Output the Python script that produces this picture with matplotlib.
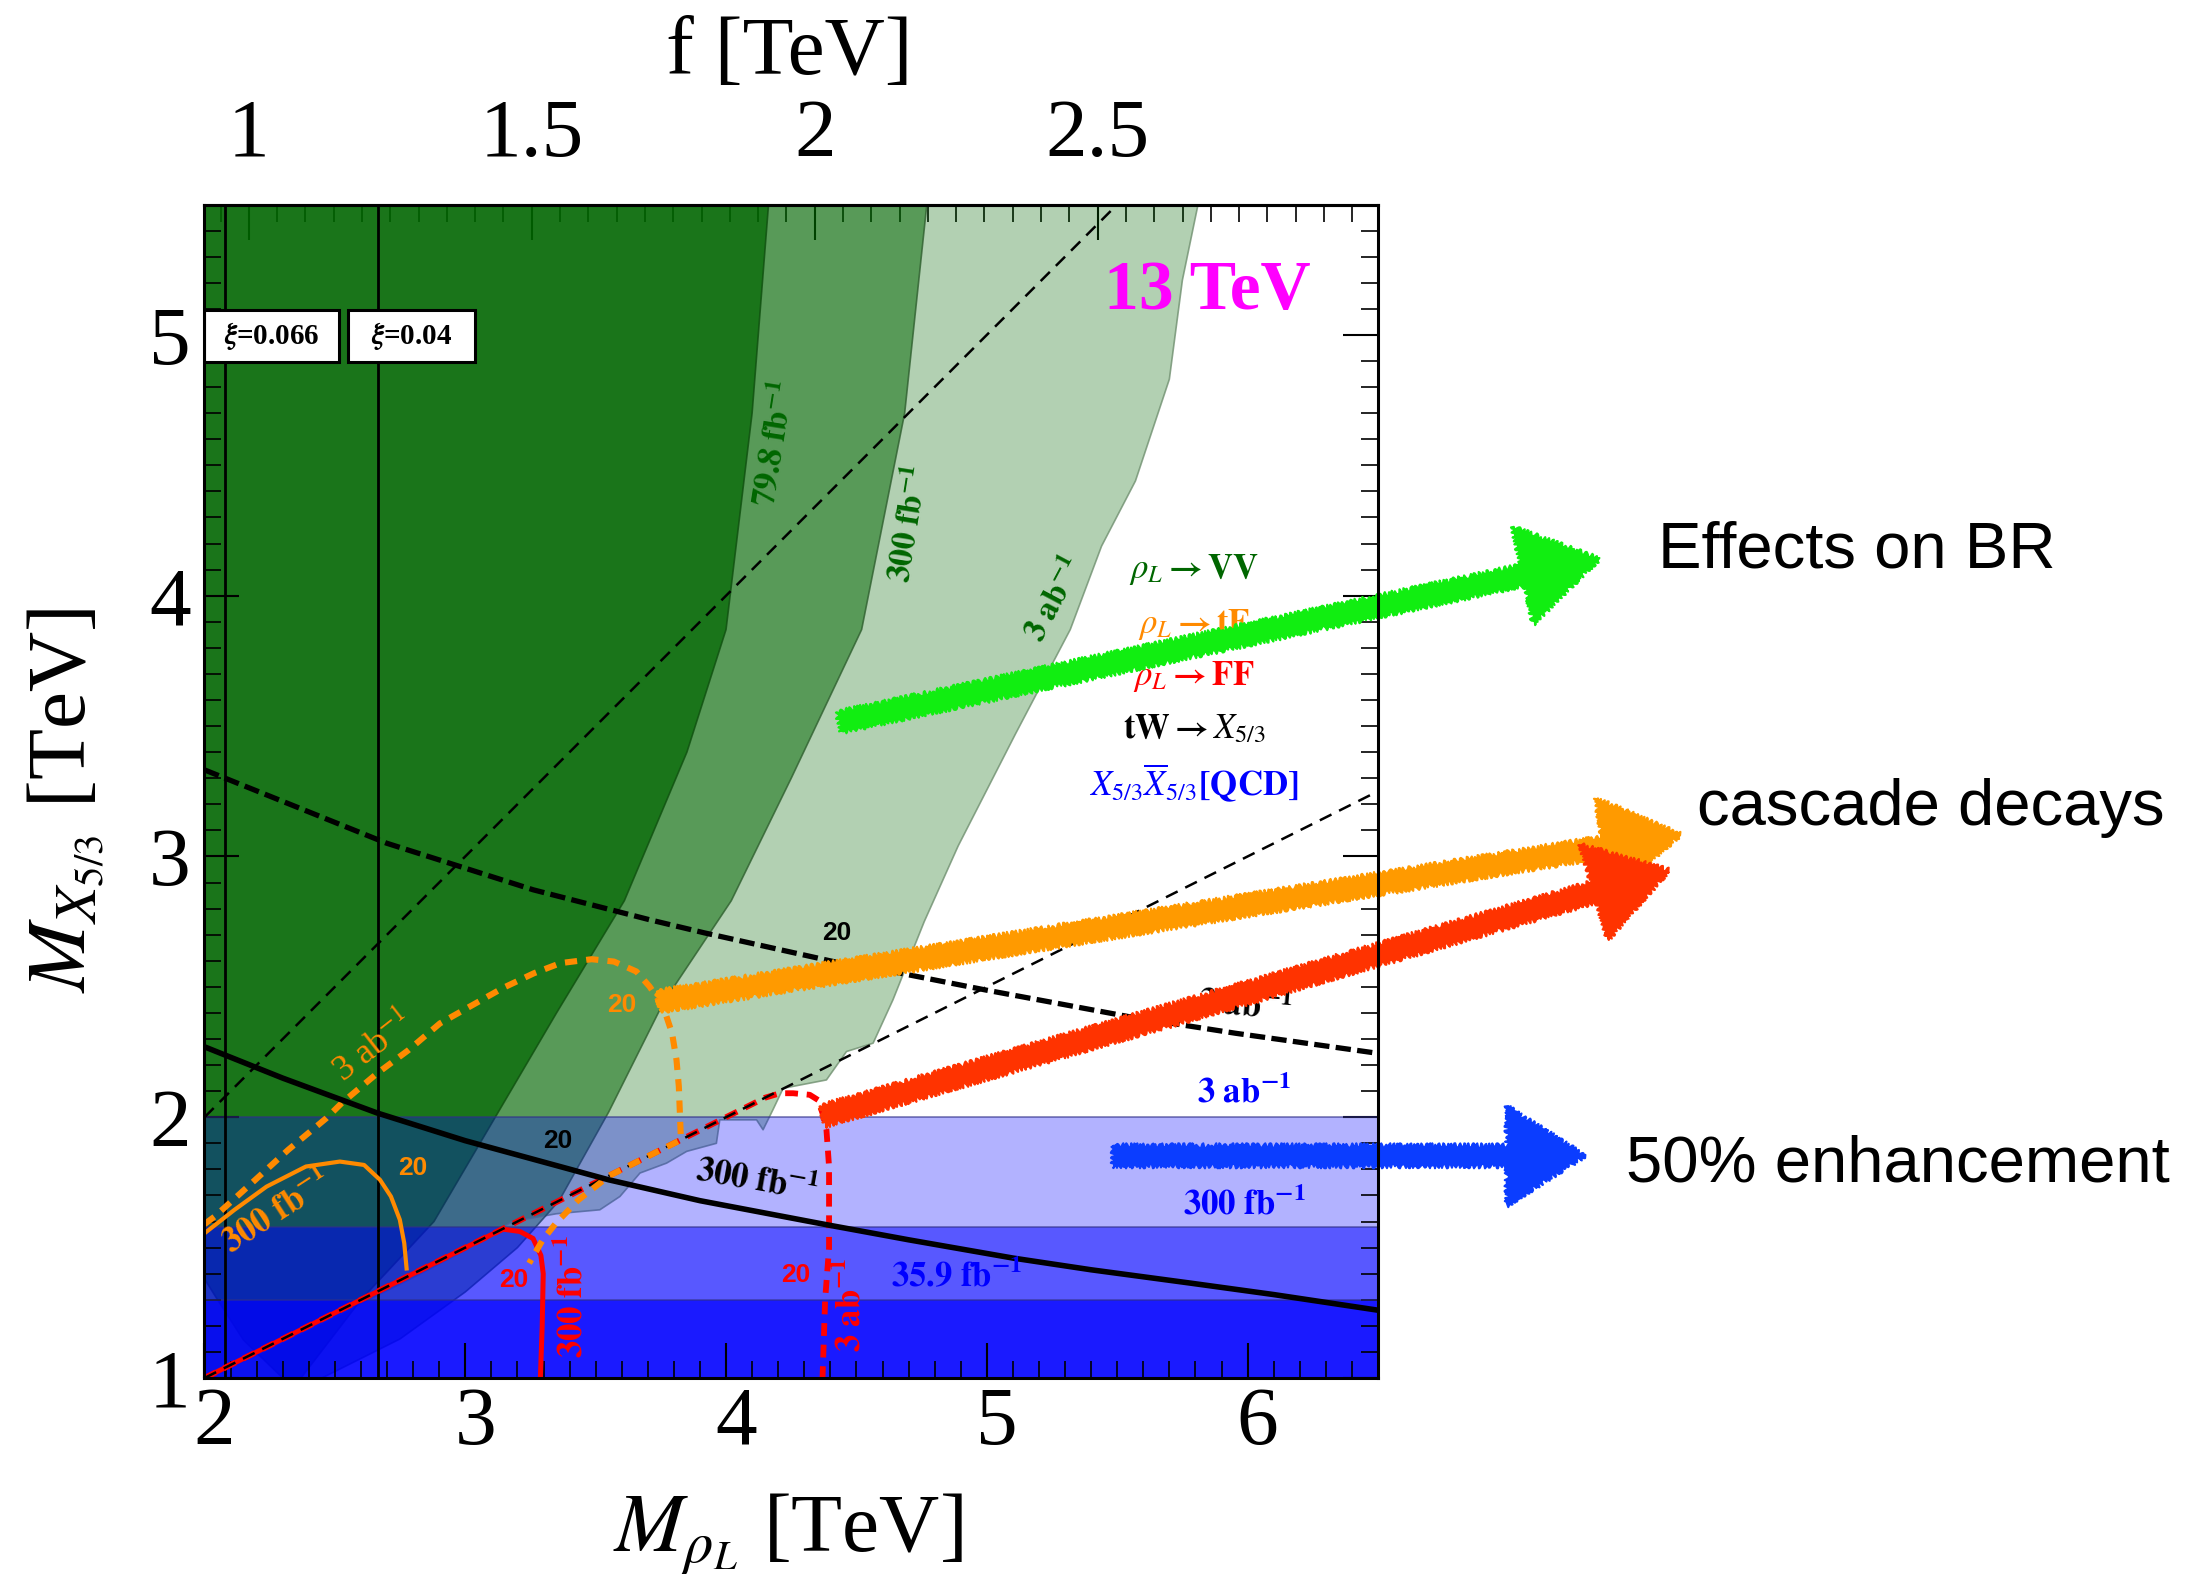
import matplotlib

matplotlib.use("Agg")
import matplotlib.pyplot as plt
from matplotlib.patches import Rectangle, FancyArrowPatch, ArrowStyle
from matplotlib.ticker import MultipleLocator, FixedLocator
from matplotlib.transforms import ScaledTranslation

plt.rcParams["font.family"] = ["Liberation Serif", "DejaVu Serif"]
plt.rcParams["mathtext.fontset"] = "stix"

# ---- data (M_rho, M_X5/3 in TeV) ----
G_SCALE = 2.17  # M_rho = 2.17 f

# excluded regions rho_L -> VV (3 ab^-1, 300 fb^-1, 79.8 fb^-1)
vv3ab_m = [2.0, 5.81, 5.75, 5.70, 5.57, 5.44, 5.32, 5.11, 4.89, 4.76, 4.64, 4.564, 4.462,
           4.385, 4.219, 4.18, 4.142, 4.117, 3.976, 3.963, 3.849, 3.772, 3.67, 3.593,
           3.516, 3.35, 3.18, 3.0, 2.8, 2.5, 2.0]
vv3ab_y = [5.5, 5.5, 5.21, 4.83, 4.44, 4.19, 3.87, 3.47, 3.04, 2.75, 2.45, 2.284, 2.252,
           2.143, 2.111, 2.029, 1.952, 1.99, 1.99, 1.90, 1.869, 1.824, 1.786, 1.696,
           1.645, 1.63, 1.60, 1.49, 1.385, 1.235, 0.99]
vv300_m = [2.0, 4.77, 4.685, 4.52, 4.25, 4.02, 3.76, 3.55, 3.36, 3.2, 3.0, 2.75, 2.45, 2.0]
vv300_y = [5.5, 5.5, 4.70, 3.87, 3.3, 2.83, 2.44, 2.02, 1.68, 1.5, 1.33, 1.15, 1.0, 1.0]
vv79_m = [2.0, 4.163, 4.10, 4.0, 3.85, 3.61, 3.35, 3.125, 2.88, 2.6, 2.37, 2.30, 2.149,
          2.05, 2.0]
vv79_y = [5.5, 5.5, 4.7, 3.87, 3.4, 2.83, 2.4, 2.017, 1.6, 1.3, 1.0, 1.0, 1.146, 1.30, 1.38]

# QCD pair production bands (upper edge)
qcd_tops = [2.0, 1.58, 1.3]
qcd_alpha = [0.3, 0.5, 0.7]

# rho_L -> tF contours
tf3ab_m = [2.0, 2.04, 2.174, 2.321, 2.468, 2.526, 2.663, 2.783, 2.903, 3.04, 3.143, 3.263,
           3.365, 3.485, 3.57, 3.656, 3.707, 3.759, 3.793, 3.81, 3.819, 3.827, 3.69,
           3.553, 3.434, 3.348, 3.297, 3.245]
tf3ab_y = [1.59, 1.62, 1.741, 1.875, 1.997, 2.054, 2.169, 2.258, 2.36, 2.437, 2.495, 2.552,
           2.591, 2.606, 2.597, 2.559, 2.501, 2.424, 2.322, 2.22, 2.118, 1.913, 1.845,
           1.776, 1.683, 1.594, 1.53, 1.44]
tf300_m = [2.0, 2.115, 2.238, 2.389, 2.519, 2.612, 2.673, 2.715, 2.749, 2.766, 2.775]
tf300_y = [1.555, 1.645, 1.734, 1.811, 1.830, 1.817, 1.76, 1.696, 1.607, 1.517, 1.42]

# rho_L -> FF contours
ff300_m = [2.0, 2.6, 3.143, 3.209, 3.26, 3.29, 3.299, 3.295, 3.288]
ff300_y = [1.0, 1.3, 1.571, 1.562, 1.535, 1.47, 1.40, 1.2, 1.0]
ff3ab_m = [2.0, 4.15, 4.207, 4.257, 4.321, 4.353, 4.37, 4.385, 4.395, 4.395, 4.38, 4.37]
ff3ab_y = [1.0, 2.075, 2.092, 2.092, 2.086, 2.066, 2.015, 1.952, 1.811, 1.498, 1.30, 1.0]

# tW -> X5/3 contours
tw3ab_m = [2.0, 2.698, 3.261, 3.708, 3.917, 4.443, 4.635, 4.995, 5.543, 5.954, 6.5]
tw3ab_y = [3.332, 3.051, 2.872, 2.757, 2.707, 2.59, 2.559, 2.488, 2.386, 2.322, 2.245]
tw300_m = [2.0, 2.3, 2.663, 3.0, 3.55, 3.9, 4.39, 4.7, 5.10, 5.4, 5.78, 6.1, 6.5]
tw300_y = [2.27, 2.15, 2.016, 1.91, 1.76, 1.68, 1.587, 1.53, 1.46, 1.415, 1.364, 1.32, 1.26]

# kinematic lines M_X = M_rho and M_X = M_rho / 2
eq_m, eq_y = [2.0, 5.5], [2.0, 5.5]
half_m, half_y = [2.0, 6.5], [1.0, 3.25]

# fixed xi lines
xi_m = [2.08, 2.665]
xi_labels = [r"$\boldsymbol{\xi}$=0.066", r"$\boldsymbol{\xi}$=0.04"]

# hand drawn arrows: (tail, tip)
arrows = [
    ((4.434, 3.515), (7.348, 4.141), "#11ee11"),
    ((3.741, 2.444), (7.660, 3.084), "#ff9a00"),
    ((4.372, 2.005), (7.616, 2.947), "#ff3300"),
    ((5.485, 1.852), (7.293, 1.852), "#0b3dff"),
]

GREEN = "#006600"
ORANGE = "#ff8a00"

fig = plt.figure(figsize=(22.12, 15.76), dpi=100)
ax = fig.add_axes([0.09245, 0.12563, 0.5305, 0.7446])
ax.set_xlim(2, 6.5)
ax.set_ylim(1, 5.5)

# green exclusions
for m, y, a, ec in [(vv3ab_m, vv3ab_y, 0.3, "#6f8f6f"),
                    (vv300_m, vv300_y, 0.5, "#2f5f2f"),
                    (vv79_m, vv79_y, 0.7, "#0f4f0f")]:
    ax.fill(m, y, color=GREEN, alpha=a, lw=0, zorder=1)
    ax.plot(m, y, color=ec, lw=1.2, alpha=0.8, zorder=1.1)

# blue QCD bands
for top, a in zip(qcd_tops, qcd_alpha):
    ax.axhspan(1.0, top, color="#0000ff", alpha=a, lw=0, zorder=1.5)
    ax.axhline(top, color="#303088", lw=1.3, alpha=0.6, zorder=1.6)

# thin kinematic lines
ax.plot(eq_m, eq_y, color="black", lw=1.8, dashes=(5.2, 3.4), zorder=3)
for xm in xi_m:
    ax.axvline(xm, color="black", lw=2.0, zorder=3)

# contours
ax.plot(ff3ab_m, ff3ab_y, color="red", lw=4.2, dashes=(2.2, 1.5), zorder=3.1)
ax.plot(ff300_m, ff300_y, color="red", lw=3.6, zorder=3.1)
ax.plot(half_m, half_y, color="black", lw=1.8, dashes=(5.2, 3.4), zorder=3.2)
ax.plot(tf3ab_m, tf3ab_y, color=ORANGE, lw=4.4, dashes=(2.0, 1.5), zorder=3.3)
ax.plot(tf300_m, tf300_y, color=ORANGE, lw=3.0, zorder=3.3)
ax.plot(tw3ab_m, tw3ab_y, color="black", lw=3.8, dashes=(2.9, 1.2), zorder=3.4)
ax.plot(tw300_m, tw300_y, color="black", lw=4.0, zorder=3.4)

# contour labels
sans = dict(family="Liberation Sans", weight="bold", fontsize=19, ha="center", va="center", zorder=4)
ax.text(3.599, 2.431, "20", color=ORANGE, **sans)
ax.text(2.80, 1.805, "20", color=ORANGE, **sans)
ax.text(4.423, 2.706, "20", color="black", **sans)
ax.text(3.356, 1.907, "20", color="black", **sans)
ax.text(3.184, 1.376, "20", color="red", **sans)
ax.text(4.267, 1.396, "20", color="red", **sans)

lab = dict(ha="center", va="center", zorder=4, rotation_mode="anchor")
ax.text(2.647, 2.271, r"3 ab$^{-1}$", color=ORANGE, fontsize=26, rotation=38, **lab)
ax.text(2.277, 1.633, r"$\mathbf{300\ fb^{-1}}$", color=ORANGE, fontsize=25, rotation=33, **lab)
ax.text(4.117, 1.753, r"$\mathbf{300\ fb^{-1}}$", color="black", fontsize=25, rotation=-10, **lab)
ax.text(5.988, 2.424, r"$\mathbf{3\ ab^{-1}}$", color="black", fontsize=25, rotation=-5, **lab)
ax.text(3.414, 1.313, r"$\mathbf{300\ fb^{-1}}$", color="red", fontsize=25, rotation=90, **lab)
ax.text(4.481, 1.281, r"$\mathbf{3\ ab^{-1}}$", color="red", fontsize=25, rotation=90, **lab)
ax.text(5.988, 2.092, r"$\mathbf{3\ ab^{-1}}$", color="blue", fontsize=25, **lab)
ax.text(5.988, 1.664, r"$\mathbf{300\ fb^{-1}}$", color="blue", fontsize=25, **lab)
ax.text(4.884, 1.389, r"$\mathbf{35.9\ fb^{-1}}$", color="blue", fontsize=25, **lab)
ax.text(4.19, 4.584, r"$\mathbf{79.8\ fb^{-1}}$", color=GREEN, fontsize=24, rotation=81, **lab)
ax.text(4.704, 4.277, r"$\mathbf{300\ fb^{-1}}$", color=GREEN, fontsize=24, rotation=81, **lab)
ax.text(5.261, 3.984, r"$\mathbf{3\ ab^{-1}}$", color=GREEN, fontsize=24, rotation=62, **lab)

# xi boxes
for xm, txt, x0, w in zip(xi_m, xi_labels, [2.0, 2.55], [0.517, 0.489]):
    ax.add_patch(Rectangle((x0, 4.897), w, 0.199, fc="white", ec="black", lw=2.2, zorder=4))
    ax.text(x0 + w / 2, 4.997, txt, fontsize=21, weight="bold", ha="center", va="center",
            zorder=4.1)

# process legend
ax.text(5.845, 5.164, "13 TeV", color="#ff00ff", fontsize=50, weight="bold",
        ha="center", va="center", zorder=4)
leg = [(4.099, r"$\boldsymbol{\rho_L}\mathbf{\rightarrow VV}$", GREEN),
       (3.888, r"$\boldsymbol{\rho_L}\mathbf{\rightarrow tF}$", ORANGE),
       (3.690, r"$\boldsymbol{\rho_L}\mathbf{\rightarrow FF}$", "red"),
       (3.485, r"$\mathbf{tW\rightarrow}\boldsymbol{X_{5/3}}$", "black"),
       (3.282, r"$\boldsymbol{X_{5/3}\overline{X}_{5/3}}\mathbf{[QCD]}$", "blue")]
for y, txt, c in leg:
    ax.text(5.795, y, txt, color=c, fontsize=25, ha="center", va="center", zorder=4)

# arrows, with a rough crayon-like outline
for (p0, p1, c) in arrows:
    arr = FancyArrowPatch(p0, p1, arrowstyle=ArrowStyle.Simple(head_length=0.56, head_width=0.71,
                                                                  tail_width=0.145),
                          mutation_scale=100, color=c, lw=1.5, shrinkA=0, shrinkB=0,
                          clip_on=False, zorder=6)
    arr.set_sketch_params(scale=2.5, length=5, randomness=3)
    ax.add_patch(arr)

# axes styling
for s in ax.spines.values():
    s.set_linewidth(2.2)
    s.set_zorder(7)
ax.xaxis.set_major_locator(MultipleLocator(1))
ax.xaxis.set_minor_locator(MultipleLocator(0.1))
ax.yaxis.set_major_locator(MultipleLocator(1))
ax.yaxis.set_minor_locator(MultipleLocator(0.1))
ax.tick_params(which="both", direction="in", top=False, right=True, labelsize=60)
ax.tick_params(which="major", length=25, width=1.5)
ax.tick_params(which="minor", length=12.5, width=1.2)
ax.tick_params(axis="x", pad=6)
ax.tick_params(axis="y", pad=10)
for t in ax.get_xticklabels():
    t.set_transform(t.get_transform() + ScaledTranslation(0.1, 0, fig.dpi_scale_trans))

top = ax.secondary_xaxis("top", functions=(lambda m: m / G_SCALE, lambda f: f * G_SCALE))
top.xaxis.set_major_locator(FixedLocator([1, 1.5, 2, 2.5]))
top.xaxis.set_minor_locator(MultipleLocator(0.05))
top.set_xticklabels(["1", "1.5", "2", "2.5"])
top.tick_params(which="both", direction="in", labelsize=60, pad=22)
top.tick_params(which="major", length=25, width=1.5)
top.tick_params(which="minor", length=12.5, width=1.2)
top.spines["top"].set_linewidth(2.2)

fig.text(0.030, 0.4924, r"$M_{X_{5/3}}$ [TeV]", fontsize=60, rotation=90, ha="center", va="center")
fig.text(0.3562, 0.0154, r"$M_{\rho_L}$ [TeV]", fontsize=60, ha="center", va="baseline")
fig.text(0.357, 0.953, "f [TeV]", fontsize=60, ha="center", va="baseline")

sansr = dict(family="Liberation Sans", fontsize=47, va="baseline", ha="left")
fig.text(0.7494, 0.6402, "Effects on BR", **sansr)
fig.text(0.7672, 0.4763, "cascade decays", **sansr)
fig.text(0.7353, 0.2500, "50% enhancement", **sansr)

fig.savefig("out.png", dpi=100)
